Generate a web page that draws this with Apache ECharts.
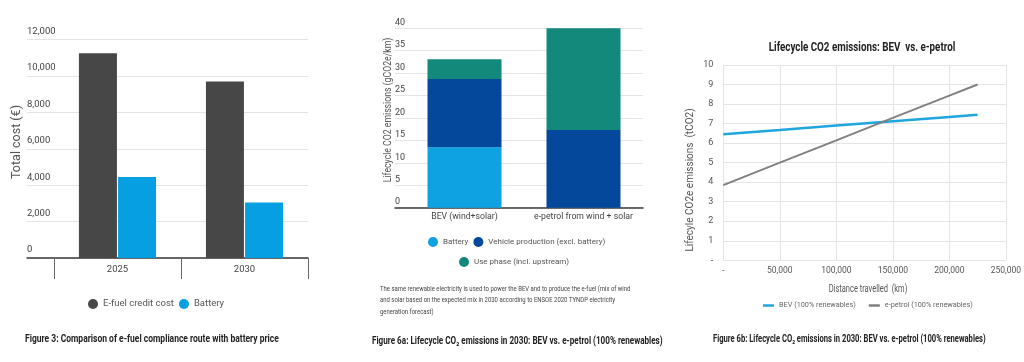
<!DOCTYPE html>
<html><head><meta charset="utf-8">
<script src="https://cdn.jsdelivr.net/npm/echarts@6/dist/echarts.min.js"></script>
<style>html,body{margin:0;padding:0;background:#fff}#c{width:1024px;height:362px}</style>
</head><body><div id="c"></div>
<script>
// ---------- Chart 1: cost ----------
const costYears = ['2025', '2030'];
const efuelCost = [11250, 9700];
const batteryCost = [4450, 3050];
const costTicks = [0, 2000, 4000, 6000, 8000, 10000, 12000];

// ---------- Chart 2: lifecycle CO2 stacked ----------
const co2Categories = ['BEV (wind+solar)', 'e-petrol from wind + solar'];
const co2Battery = [13.5, 0];
const co2Vehicle = [15.2, 17.3];
const co2Use = [4.4, 22.7];

// ---------- Chart 3: lifecycle vs distance ----------
const distanceKm = [0, 50000, 100000, 150000, 200000, 225000];
const bevT = [6.45, 6.67, 6.9, 7.12, 7.34, 7.45];
const petrolT = [3.85, 5.0, 6.14, 7.29, 8.43, 9.0];

const FONT = "'Roboto', 'Noto Sans', sans-serif";
const GRID_C = '#e4e4e4';

const chart = echarts.init(document.getElementById('c'), null, {renderer: 'canvas'});
const fmt = v => v === 0 ? '-' : v.toLocaleString('en-US');

const option = {
  animation: false,
  textStyle: {fontFamily: FONT},
  grid: [
    {left: 27, right: 716, top: 39.5, bottom: 104},   // 0 chart1 gridlines
    {left: 54, right: 716, top: 39.5, bottom: 104},   // 1 chart1 bars
    {left: 395, right: 381, top: 28.3, bottom: 154.3}, // 2 chart2 gridlines
    {left: 405, right: 381, top: 28.3, bottom: 154.3}, // 3 chart2 bars
    {left: 723.3, right: 10.7, top: 65, bottom: 101.7} // 4 chart3
  ],
  xAxis: [
    {gridIndex: 0, type: 'value', min: 0, max: 1, axisLine: {show: true, lineStyle: {color: '#3a3a3a', width: 1.5}},
      axisLabel: {show: false}, axisTick: {show: false}, splitLine: {show: false}},
    {gridIndex: 1, type: 'category', data: costYears, axisLine: {show: false},
      axisTick: {show: true, length: 21, lineStyle: {color: '#666'}},
      axisLabel: {color: '#444', fontSize: 9.5, margin: 7, fontFamily: FONT}},
    {gridIndex: 2, type: 'value', min: 0, max: 1, axisLine: {show: true, lineStyle: {color: '#3a3a3a', width: 1.5}},
      axisLabel: {show: false}, axisTick: {show: false}, splitLine: {show: false}},
    {gridIndex: 3, type: 'category', data: co2Categories, axisLine: {show: false}, axisTick: {show: false},
      axisLabel: {color: '#444', fontSize: 8.7, margin: 5, interval: 0, fontFamily: FONT}},
    {gridIndex: 4, type: 'value', min: 0, max: 250000, interval: 50000,
      axisLine: {show: false}, axisTick: {show: false},
      splitLine: {show: true, lineStyle: {color: GRID_C}},
      axisLabel: {color: '#555', fontSize: 8.5, margin: 6, formatter: fmt, fontFamily: FONT}}
  ],
  yAxis: [
    {gridIndex: 0, type: 'value', min: 0, max: 12000, interval: 2000,
      axisLine: {show: false}, axisTick: {show: false},
      splitLine: {show: true, lineStyle: {color: GRID_C}},
      axisLabel: {inside: true, align: 'left', verticalAlign: 'bottom', margin: 0, padding: [0, 0, 3, 0],
        color: '#444', fontSize: 9.5, formatter: v => v.toLocaleString('en-US'), fontFamily: FONT}},
    {gridIndex: 1, type: 'value', min: 0, max: 12000, show: false},
    {gridIndex: 2, type: 'value', min: 0, max: 40, interval: 5,
      axisLine: {show: false}, axisTick: {show: false},
      splitLine: {show: true, lineStyle: {color: GRID_C}},
      axisLabel: {inside: true, align: 'left', verticalAlign: 'bottom', margin: 0, padding: [0, 0, 1, 0],
        color: '#444', fontSize: 9, fontFamily: FONT}},
    {gridIndex: 3, type: 'value', min: 0, max: 40, show: false},
    {gridIndex: 4, type: 'value', min: 0, max: 10, interval: 1,
      axisLine: {show: false}, axisTick: {show: false},
      splitLine: {show: true, lineStyle: {color: GRID_C}},
      axisLabel: {color: '#555', fontSize: 9, margin: 10, formatter: fmt, fontFamily: FONT}}
  ],
  legend: [
    {left: 88, top: 299, padding: 0, icon: 'circle', itemWidth: 10, itemHeight: 10, itemGap: 5,
      textStyle: {color: '#555', fontSize: 9.5, fontFamily: FONT},
      data: ['E-fuel credit cost', 'Battery']},
    {left: 428, top: 237, padding: 0, icon: 'circle', itemWidth: 10, itemHeight: 10, itemGap: 3,
      textStyle: {color: '#555', fontSize: 8, fontFamily: FONT},
      data: ['Battery ', 'Vehicle production (excl. battery)']},
    {left: 459, top: 257, padding: 0, icon: 'circle', itemWidth: 10, itemHeight: 10,
      textStyle: {color: '#555', fontSize: 8, fontFamily: FONT},
      data: ['Use phase (incl. upstream)']},
    {left: 763, top: 302, padding: 0, icon: 'rect', itemWidth: 11, itemHeight: 2.5, itemGap: 13,
      textStyle: {color: '#666', fontSize: 7.3, fontFamily: FONT},
      data: ['BEV (100% renewables)', 'e-petrol (100% renewables)']}
  ],
  series: [
    {name: 'E-fuel credit cost', type: 'bar', xAxisIndex: 1, yAxisIndex: 1, data: efuelCost,
      barWidth: 38, barGap: '3%', itemStyle: {color: '#474747'}},
    {name: 'Battery', type: 'bar', xAxisIndex: 1, yAxisIndex: 1, data: batteryCost,
      barWidth: 38, barGap: '3%', itemStyle: {color: '#069fe1'}},
    {name: 'Battery ', type: 'bar', stack: 'co2', xAxisIndex: 3, yAxisIndex: 3, data: co2Battery,
      barWidth: 74, itemStyle: {color: '#0ea2e3'}},
    {name: 'Vehicle production (excl. battery)', type: 'bar', stack: 'co2', xAxisIndex: 3, yAxisIndex: 3, data: co2Vehicle,
      barWidth: 74, itemStyle: {color: '#03489a'}},
    {name: 'Use phase (incl. upstream)', type: 'bar', stack: 'co2', xAxisIndex: 3, yAxisIndex: 3, data: co2Use,
      barWidth: 74, itemStyle: {color: '#12897b'}},
    {name: 'BEV (100% renewables)', type: 'line', xAxisIndex: 4, yAxisIndex: 4,
      data: distanceKm.map((d, i) => [d, bevT[i]]), showSymbol: false, symbol: 'none',
      lineStyle: {color: '#1fa6de', width: 2.5}, itemStyle: {color: '#1fa6de'}},
    {name: 'e-petrol (100% renewables)', type: 'line', xAxisIndex: 4, yAxisIndex: 4,
      data: distanceKm.map((d, i) => [d, petrolT[i]]), showSymbol: false, symbol: 'none',
      lineStyle: {color: '#808080', width: 2}, itemStyle: {color: '#808080'}}
  ],
  graphic: [
    {type: 'text', x: 17, y: 142, rotation: Math.PI / 2,
      style: {text: 'Total cost (€)', fill: '#555', fontSize: 12.5, fontFamily: FONT, align: 'center', verticalAlign: 'middle'}},
    {type: 'text', x: 25, y: 339, scaleX: 0.85,
      style: {text: 'Figure 3: Comparison of e-fuel compliance route with battery price', fill: '#222', fontSize: 10,
        fontWeight: 'bold', fontFamily: FONT, verticalAlign: 'middle'}},
    {type: 'text', x: 388, y: 110, rotation: Math.PI / 2, scaleX: 0.87,
      style: {text: 'Lifecycle CO2 emissions (gCO2e/km)', fill: '#555', fontSize: 10, fontFamily: FONT, align: 'center', verticalAlign: 'middle'}},
    {type: 'text', x: 380, y: 283, scaleX: 0.85,
      style: {text: 'The same renewable electricity is used to power the BEV and to produce the e-fuel (mix of wind\nand solar based on the expected mix in 2030 according to ENSOE 2020 TYNDP electricity\ngeneration forecast)',
        fill: '#444', fontSize: 7, lineHeight: 11.5, fontFamily: FONT}},
    {type: 'text', x: 372, y: 341, scaleX: 0.813,
      style: {text: 'Figure 6a: Lifecycle CO₂ emissions in 2030: BEV vs. e-petrol (100% renewables)', fill: '#222', fontSize: 10,
        fontWeight: 'bold', fontFamily: FONT, verticalAlign: 'middle'}},
    {type: 'text', x: 862, y: 48, scaleX: 0.816,
      style: {text: 'Lifecycle CO2 emissions: BEV  vs. e-petrol', fill: '#222', fontSize: 12, fontWeight: 'bold',
        fontFamily: FONT, align: 'center', verticalAlign: 'middle'}},
    {type: 'text', x: 690, y: 180, rotation: Math.PI / 2,
      style: {text: 'Lifecyle CO2e emissions  (tCO2)', fill: '#555', fontSize: 10, fontFamily: FONT, align: 'center', verticalAlign: 'middle'}},
    {type: 'text', x: 868, y: 289, scaleX: 0.75,
      style: {text: 'Distance travelled  (km)', fill: '#555', fontSize: 10, fontFamily: FONT, align: 'center', verticalAlign: 'middle'}},
    {type: 'text', x: 713, y: 339, scaleX: 0.762,
      style: {text: 'Figure 6b: Lifecycle CO₂ emissions in 2030: BEV vs. e-petrol (100% renewables)', fill: '#222', fontSize: 10,
        fontWeight: 'bold', fontFamily: FONT, verticalAlign: 'middle'}}
  ]
};
chart.setOption(option);
</script></body></html>
